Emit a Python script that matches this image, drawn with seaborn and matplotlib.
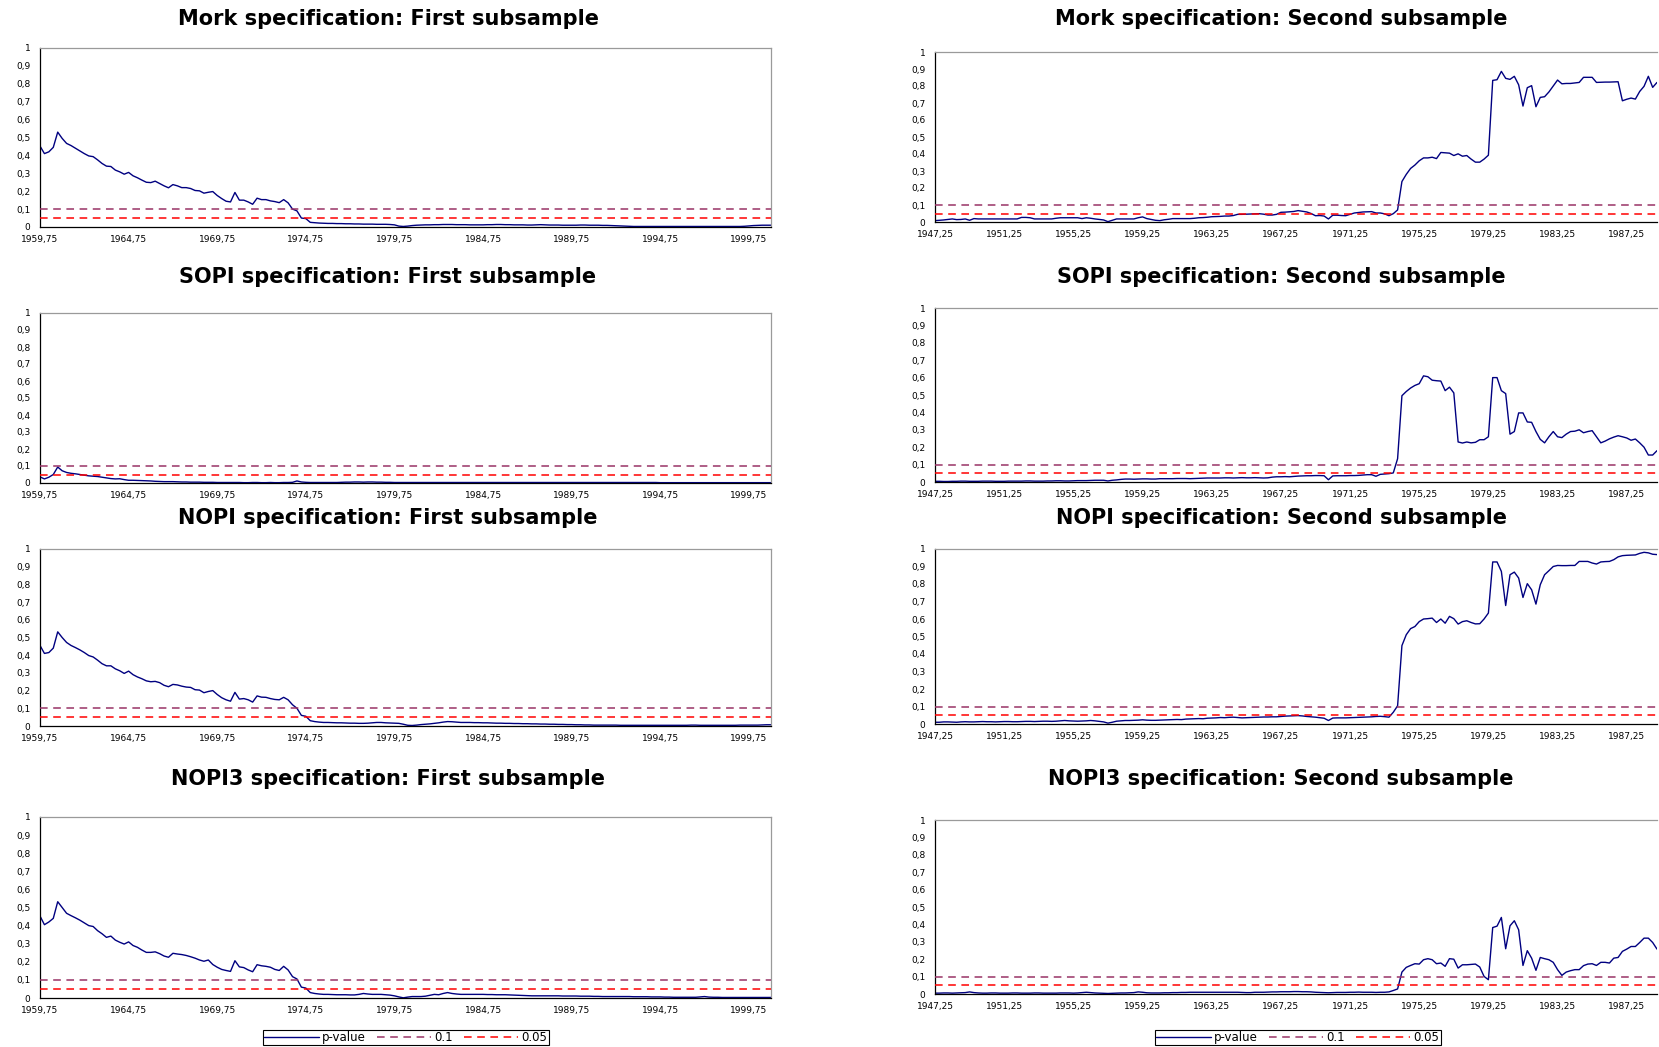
import numpy as np
import pandas as pd
import matplotlib
matplotlib.use("Agg")
import matplotlib.pyplot as plt
import seaborn as sns
from matplotlib.ticker import FixedLocator, FuncFormatter

# p-values, quarterly, first subsample starts 1959,75 - second subsample starts 1947,25
first_start = 1959.75
second_start = 1947.25

mork_first = [
    0.452, 0.41, 0.42, 0.445, 0.53, 0.495, 0.467, 0.455, 0.44, 0.425, 0.41, 0.397, 0.393, 0.375, 0.355, 0.34, 0.338, 0.318, 0.308, 0.295,
    0.305, 0.286, 0.275, 0.262, 0.25, 0.248, 0.256, 0.243, 0.23, 0.219, 0.237, 0.23, 0.22, 0.22, 0.215, 0.204, 0.202, 0.189, 0.194, 0.198,
    0.176, 0.159, 0.144, 0.14, 0.193, 0.15, 0.15, 0.14, 0.127, 0.161, 0.153, 0.153, 0.146, 0.142, 0.136, 0.153, 0.135, 0.1, 0.09, 0.05,
    0.047, 0.026, 0.024, 0.022, 0.021, 0.02, 0.02, 0.019, 0.019, 0.018, 0.018, 0.017, 0.017, 0.016, 0.016, 0.016, 0.015, 0.015, 0.015, 0.014,
    0.012, 0.005, 0.003, 0.005, 0.008, 0.01, 0.011, 0.012, 0.012, 0.013, 0.013, 0.014, 0.014, 0.014, 0.013, 0.013, 0.013, 0.012, 0.012, 0.012,
    0.012, 0.013, 0.013, 0.014, 0.014, 0.013, 0.013, 0.012, 0.012, 0.012, 0.011, 0.011, 0.012, 0.013, 0.012, 0.011, 0.011, 0.011, 0.01, 0.01,
    0.01, 0.01, 0.011, 0.011, 0.01, 0.01, 0.01, 0.009, 0.009, 0.008, 0.007, 0.006, 0.005, 0.004, 0.003, 0.003, 0.003, 0.003, 0.003, 0.003,
    0.003, 0.003, 0.003, 0.003, 0.003, 0.003, 0.003, 0.003, 0.003, 0.003, 0.003, 0.003, 0.003, 0.003, 0.003, 0.003, 0.003, 0.003, 0.003, 0.004,
    0.006, 0.008, 0.009, 0.01, 0.01, 0.01,
]

sopi_first = [
    0.036, 0.024, 0.034, 0.05, 0.094, 0.072, 0.062, 0.057, 0.054, 0.05, 0.046, 0.042, 0.04, 0.038, 0.034, 0.03, 0.026, 0.024, 0.025, 0.02,
    0.016, 0.016, 0.015, 0.014, 0.013, 0.012, 0.01, 0.009, 0.008, 0.008, 0.008, 0.007, 0.006, 0.006, 0.005, 0.005, 0.005, 0.004, 0.004, 0.004,
    0.003, 0.003, 0.003, 0.003, 0.003, 0.003, 0.002, 0.002, 0.003, 0.003, 0.002, 0.002, 0.003, 0.002, 0.002, 0.003, 0.003, 0.004, 0.012, 0.006,
    0.004, 0.003, 0.003, 0.003, 0.003, 0.003, 0.003, 0.003, 0.004, 0.005, 0.005, 0.006, 0.006, 0.005, 0.006, 0.006, 0.005, 0.005, 0.004, 0.004,
    0.003, 0.003, 0.003, 0.003, 0.003, 0.003, 0.003, 0.003, 0.003, 0.003, 0.003, 0.003, 0.003, 0.003, 0.003, 0.003, 0.003, 0.003, 0.003, 0.003,
    0.003, 0.003, 0.003, 0.003, 0.003, 0.003, 0.003, 0.003, 0.003, 0.003, 0.003, 0.003, 0.003, 0.003, 0.003, 0.003, 0.003, 0.003, 0.003, 0.003,
    0.003, 0.003, 0.003, 0.003, 0.003, 0.003, 0.003, 0.003, 0.003, 0.003, 0.003, 0.003, 0.003, 0.003, 0.003, 0.003, 0.003, 0.003, 0.003, 0.003,
    0.002, 0.002, 0.002, 0.002, 0.002, 0.002, 0.002, 0.002, 0.002, 0.002, 0.002, 0.002, 0.002, 0.002, 0.002, 0.002, 0.002, 0.002, 0.002, 0.002,
    0.002, 0.002, 0.002, 0.002, 0.002, 0.002,
]

nopi_first = [
    0.455, 0.41, 0.415, 0.44, 0.532, 0.5, 0.472, 0.455, 0.443, 0.43, 0.415, 0.398, 0.39, 0.372, 0.352, 0.34, 0.34, 0.323, 0.312, 0.297,
    0.31, 0.29, 0.277, 0.267, 0.255, 0.25, 0.252, 0.245, 0.23, 0.222, 0.235, 0.232, 0.225, 0.22, 0.218, 0.205, 0.203, 0.188, 0.195,
    0.2, 0.178, 0.16, 0.148, 0.14, 0.19, 0.152, 0.155, 0.148, 0.135, 0.17, 0.163, 0.162, 0.155, 0.15, 0.148, 0.162, 0.148, 0.12, 0.1,
    0.06, 0.055, 0.03, 0.025,
    0.022, 0.02, 0.02, 0.019, 0.018, 0.018, 0.017, 0.016, 0.016, 0.015, 0.015, 0.016, 0.018, 0.02, 0.02, 0.018, 0.017, 0.016, 0.015, 0.01,
    0.004, 0.003, 0.005, 0.008, 0.01, 0.012, 0.015, 0.018, 0.022, 0.025, 0.024, 0.022, 0.02, 0.02, 0.02, 0.019, 0.019, 0.018, 0.018, 0.017,
    0.016, 0.016, 0.015, 0.015, 0.014, 0.014, 0.013, 0.013, 0.012, 0.012, 0.011, 0.011, 0.01, 0.01, 0.009, 0.009, 0.008, 0.008, 0.007, 0.007,
    0.006, 0.006, 0.005, 0.005, 0.005, 0.005, 0.005, 0.005, 0.004, 0.004, 0.004, 0.004, 0.004, 0.004, 0.004, 0.004, 0.004, 0.004, 0.004, 0.004,
    0.004, 0.004, 0.004, 0.004, 0.005, 0.005, 0.004, 0.004, 0.004, 0.004, 0.004, 0.004, 0.004, 0.004, 0.004, 0.005, 0.005, 0.005, 0.005, 0.005,
    0.006, 0.007, 0.007,
]

nopi3_first = [
    0.453, 0.405, 0.42, 0.44, 0.532, 0.5, 0.468, 0.455, 0.443, 0.43, 0.415, 0.4, 0.395, 0.372, 0.355, 0.335, 0.342, 0.32, 0.308, 0.298,
    0.31, 0.29, 0.28, 0.265, 0.252, 0.252, 0.255, 0.245, 0.232, 0.225, 0.247, 0.243, 0.24, 0.235, 0.228, 0.22, 0.21, 0.203, 0.21, 0.185,
    0.17, 0.158, 0.152, 0.147, 0.206, 0.172, 0.168, 0.155, 0.145, 0.184, 0.178, 0.175, 0.17, 0.158, 0.152, 0.175, 0.155, 0.118, 0.105, 0.06,
    0.055, 0.03, 0.025,
    0.022, 0.02, 0.02, 0.019, 0.018, 0.018, 0.018, 0.017, 0.017, 0.02, 0.025, 0.022, 0.02, 0.02, 0.02, 0.018, 0.016, 0.012, 0.006, 0.001,
    0.005, 0.008, 0.008, 0.008, 0.01, 0.015, 0.02, 0.018, 0.025, 0.03, 0.025, 0.022, 0.02, 0.02, 0.02, 0.02, 0.02, 0.02, 0.019, 0.019,
    0.018, 0.018, 0.018, 0.017, 0.016, 0.015, 0.014, 0.013, 0.012, 0.012, 0.012, 0.012, 0.012, 0.012, 0.012, 0.011, 0.011, 0.011, 0.011, 0.01,
    0.01, 0.01, 0.009, 0.009, 0.008, 0.008, 0.008, 0.008, 0.008, 0.008, 0.008, 0.007, 0.007, 0.007, 0.007, 0.006, 0.006, 0.006, 0.005, 0.005,
    0.004, 0.004, 0.004, 0.004, 0.004, 0.004, 0.006, 0.008, 0.005, 0.004, 0.004, 0.003, 0.003, 0.003, 0.003, 0.003, 0.003, 0.003, 0.003, 0.003,
    0.003, 0.003, 0.003,
]

mork_second = [
    0.008, 0.01, 0.012, 0.015, 0.018, 0.014, 0.015, 0.018, 0.01, 0.02, 0.018, 0.018, 0.018, 0.018, 0.018, 0.018, 0.018, 0.018, 0.018, 0.018,
    0.027, 0.027, 0.025, 0.018, 0.018, 0.018, 0.018, 0.018, 0.022, 0.025, 0.025, 0.025, 0.025, 0.025, 0.02, 0.025, 0.022, 0.018, 0.015, 0.012,
    0.002, 0.01, 0.018, 0.018, 0.018, 0.018, 0.018, 0.025, 0.03, 0.02, 0.015, 0.01, 0.008, 0.013, 0.016, 0.02, 0.02, 0.02, 0.02, 0.02,
    0.022, 0.025, 0.026, 0.028, 0.031, 0.032, 0.033, 0.035, 0.035, 0.038, 0.045, 0.045, 0.046, 0.047, 0.048, 0.049, 0.046, 0.041, 0.041, 0.045,
    0.057, 0.058, 0.06, 0.062, 0.067, 0.063, 0.059, 0.05, 0.037, 0.038, 0.035, 0.018, 0.04, 0.04, 0.038, 0.037, 0.045, 0.053, 0.056, 0.059,
    0.06, 0.061, 0.053, 0.053, 0.048, 0.037, 0.049, 0.071, 0.238, 0.28, 0.315, 0.335, 0.36, 0.377, 0.377, 0.381, 0.373, 0.409, 0.407, 0.405,
    0.391, 0.401, 0.387, 0.391, 0.37, 0.352, 0.352, 0.37, 0.393, 0.833, 0.837, 0.886, 0.845, 0.839, 0.857, 0.807, 0.682, 0.79, 0.802, 0.678,
    0.733, 0.737, 0.765, 0.8, 0.835, 0.813, 0.815, 0.815, 0.818, 0.821, 0.851, 0.851, 0.851, 0.821, 0.822, 0.823, 0.823, 0.824, 0.825, 0.713,
    0.722, 0.729, 0.723, 0.768, 0.798, 0.857, 0.792, 0.821,
]

sopi_second = [
    0.004, 0.004, 0.003, 0.003, 0.004, 0.004, 0.005, 0.005, 0.004, 0.004, 0.004, 0.005, 0.005, 0.005, 0.004, 0.004, 0.004, 0.005, 0.005, 0.005,
    0.005, 0.006, 0.006, 0.005, 0.005, 0.005, 0.006, 0.006, 0.007, 0.007, 0.006, 0.006, 0.007, 0.008, 0.008, 0.008, 0.009, 0.01, 0.01, 0.01,
    0.006, 0.01, 0.012, 0.015, 0.017, 0.017, 0.016, 0.017, 0.018, 0.018, 0.017, 0.017, 0.019, 0.019, 0.019, 0.019, 0.02, 0.02, 0.02, 0.019,
    0.02, 0.021, 0.022, 0.023, 0.023, 0.023, 0.023, 0.024, 0.024, 0.023, 0.024, 0.025, 0.024, 0.024, 0.025, 0.024, 0.023, 0.024, 0.028, 0.03,
    0.03, 0.031, 0.03, 0.032, 0.034, 0.035, 0.036, 0.036, 0.037, 0.037, 0.036, 0.013, 0.035, 0.036, 0.036, 0.036, 0.037, 0.037, 0.038, 0.04,
    0.042, 0.042, 0.033, 0.044, 0.046, 0.048, 0.052, 0.134, 0.496, 0.52, 0.54, 0.555, 0.565, 0.61, 0.605, 0.585, 0.582, 0.58, 0.525, 0.545,
    0.512, 0.23, 0.224, 0.23, 0.225, 0.228, 0.243, 0.243, 0.26, 0.6, 0.6, 0.525, 0.508, 0.275, 0.29, 0.397, 0.397, 0.345, 0.343, 0.29,
    0.245, 0.225, 0.26, 0.29, 0.26, 0.255, 0.275, 0.29, 0.292, 0.3, 0.283, 0.29, 0.295, 0.26, 0.225, 0.235, 0.248, 0.258, 0.266, 0.26,
    0.253, 0.24, 0.247, 0.225, 0.2, 0.155, 0.155, 0.18,
]

nopi_second = [
    0.01, 0.01, 0.012, 0.012, 0.011, 0.01, 0.012, 0.013, 0.012, 0.012, 0.013, 0.014, 0.013, 0.013, 0.012, 0.013, 0.014, 0.014, 0.013, 0.013,
    0.014, 0.015, 0.015, 0.014, 0.015, 0.016, 0.016, 0.015, 0.016, 0.018, 0.02, 0.018, 0.017, 0.016, 0.017, 0.018, 0.02, 0.018, 0.015, 0.012,
    0.005, 0.01, 0.016, 0.018, 0.02, 0.02, 0.021, 0.022, 0.024, 0.022, 0.021, 0.021, 0.022, 0.023, 0.024, 0.025, 0.026, 0.025, 0.028, 0.029,
    0.03, 0.031, 0.03, 0.033, 0.034, 0.035, 0.037, 0.036, 0.038, 0.039, 0.037, 0.035, 0.036, 0.037, 0.038, 0.039, 0.04, 0.04, 0.041, 0.041,
    0.043, 0.045, 0.046, 0.047, 0.048, 0.046, 0.043, 0.041, 0.039, 0.036, 0.033, 0.02, 0.034, 0.035, 0.035, 0.035, 0.036, 0.037, 0.038, 0.039,
    0.04, 0.041, 0.043, 0.044, 0.042, 0.039, 0.067, 0.104, 0.448, 0.51, 0.545, 0.557, 0.585, 0.6, 0.602, 0.605, 0.58, 0.6, 0.576, 0.615,
    0.602, 0.571, 0.585, 0.59, 0.58, 0.572, 0.573, 0.6, 0.634, 0.926, 0.926, 0.872, 0.677, 0.853, 0.868, 0.834, 0.723, 0.802, 0.767, 0.685,
    0.796, 0.853, 0.876, 0.9, 0.906, 0.905, 0.905, 0.906, 0.906, 0.929, 0.929, 0.929, 0.92, 0.914, 0.926, 0.928, 0.929, 0.939, 0.955, 0.962,
    0.964, 0.965, 0.966, 0.975, 0.981, 0.978, 0.97, 0.968,
]

nopi3_second = [
    0.005, 0.005, 0.006, 0.006, 0.005, 0.006, 0.007, 0.008, 0.012, 0.008, 0.006, 0.005, 0.005, 0.006, 0.006, 0.005, 0.005, 0.005, 0.006, 0.006,
    0.005, 0.005, 0.005, 0.006, 0.006, 0.005, 0.005, 0.005, 0.005, 0.006, 0.006, 0.006, 0.005, 0.006, 0.008, 0.01, 0.008, 0.006, 0.005, 0.004,
    0.003, 0.004, 0.005, 0.006, 0.006, 0.007, 0.008, 0.012, 0.01, 0.007, 0.006, 0.006, 0.006, 0.007, 0.007, 0.008, 0.008, 0.009, 0.009, 0.01,
    0.01, 0.01, 0.01, 0.01, 0.01, 0.01, 0.01, 0.01, 0.01, 0.01, 0.01, 0.009, 0.008, 0.008, 0.01, 0.01, 0.01, 0.011, 0.012, 0.012,
    0.013, 0.013, 0.013, 0.014, 0.014, 0.013, 0.013, 0.012, 0.01, 0.009, 0.008, 0.007, 0.008, 0.009, 0.009, 0.009, 0.01, 0.01, 0.011, 0.01,
    0.01, 0.01, 0.009, 0.01, 0.01, 0.012, 0.02, 0.029, 0.126, 0.153, 0.164, 0.174, 0.172, 0.197, 0.203, 0.197, 0.174, 0.178, 0.159, 0.203,
    0.2, 0.149, 0.168, 0.168, 0.17, 0.172, 0.155, 0.101, 0.082, 0.382, 0.39, 0.44, 0.26, 0.392, 0.421, 0.369, 0.164, 0.249, 0.206, 0.136,
    0.21, 0.203, 0.197, 0.182, 0.14, 0.107, 0.126, 0.134, 0.14, 0.14, 0.163, 0.172, 0.174, 0.164, 0.182, 0.182, 0.178, 0.206, 0.21, 0.245,
    0.258, 0.273, 0.273, 0.296, 0.321, 0.321, 0.296, 0.258,
]

thresholds = [0.1, 0.05]
threshold_labels = ["0.1", "0.05"]

W, H = 1659, 1047
sns.set_style("white")
plt.rcParams["font.family"] = ["DejaVu Sans"]
plt.rcParams["lines.scale_dashes"] = False
for key in ["text.color", "axes.labelcolor", "xtick.color", "ytick.color"]:
    plt.rcParams[key] = "black"

fig = plt.figure(figsize=(W / 100, H / 100), dpi=100)
fig.patch.set_facecolor("white")


def add_ax(x0, x1, ytop, ybot):
    return fig.add_axes([x0 / W, 1 - ybot / H, (x1 - x0) / W, (ybot - ytop) / H])


def ytick_fmt(v, _):
    s = f"{v:.1f}".replace(".", ",")
    return {"0,0": "0", "1,0": "1"}.get(s, s)


def xtick_fmt(v, _):
    return f"{v:.2f}".replace(".", ",")


navy = "#000080"
plum = "#993366"
red = "#FF0000"

# (values, start, x end, label step, axes box, title position)
panels = [
    (mork_first, first_start, 2001.0, 5, (40, 771, 48, 227), 388, 19, "Mork specification: First subsample"),
    (mork_second, second_start, 1989.0, 4, (935, 1657, 52, 222), 1281, 19, "Mork specification: Second subsample"),
    (sopi_first, first_start, 2001.0, 5, (40, 771, 313, 483), 388, 277, "SOPI specification: First subsample"),
    (sopi_second, second_start, 1989.0, 4, (935, 1657, 308, 482), 1281, 277, "SOPI specification: Second subsample"),
    (nopi_first, first_start, 2001.0, 5, (40, 771, 549, 726), 388, 518, "NOPI specification: First subsample"),
    (nopi_second, second_start, 1989.0, 4, (935, 1657, 549, 724), 1281, 518, "NOPI specification: Second subsample"),
    (nopi3_first, first_start, 2001.0, 5, (40, 771, 817, 998), 388, 779, "NOPI3 specification: First subsample"),
    (nopi3_second, second_start, 1989.0, 4, (935, 1657, 820, 994), 1281, 779, "NOPI3 specification: Second subsample"),
]

axes = []
for vals, start, xend, step, box, tx, ty, title in panels:
    ax = add_ax(*box)
    dates = start + 0.25 * np.arange(len(vals))
    df = pd.DataFrame({"date": dates, "p": vals})
    sns.lineplot(data=df, x="date", y="p", ax=ax, color=navy, lw=1.0,
                 estimator=None, label="p-value", legend=False, zorder=2)
    for thr, lab, col in zip(thresholds, threshold_labels, [plum, red]):
        ax.axhline(thr, color=col, lw=1.1, dashes=(5.5, 4.0), label=lab, zorder=3)

    ax.set_xlim(start, xend)
    ax.set_ylim(0, 1)
    ax.set_xlabel("")
    ax.set_ylabel("")
    ax.yaxis.set_major_locator(FixedLocator(np.round(np.arange(0, 1.01, 0.1), 1)))
    ax.yaxis.set_major_formatter(FuncFormatter(ytick_fmt))
    ax.xaxis.set_major_locator(FixedLocator(np.arange(start, xend + 0.01, step)))
    ax.xaxis.set_minor_locator(FixedLocator(np.arange(start, xend + 0.01, 1.0)))
    ax.xaxis.set_major_formatter(FuncFormatter(xtick_fmt))
    ax.tick_params(axis="both", which="both", direction="out", length=3, width=0.8,
                   color="black", labelcolor="black", labelsize=6.5, pad=3)
    ax.tick_params(axis="y", pad=4)
    ax.tick_params(axis="x", which="minor", labelbottom=False)
    for side in ["left", "bottom"]:
        ax.spines[side].set_color("black")
        ax.spines[side].set_linewidth(0.9)
    for side in ["top", "right"]:
        ax.spines[side].set_color("#9a9a9a")
        ax.spines[side].set_linewidth(0.9)
    if start == second_start:
        ax.spines["right"].set_visible(False)
    ax.grid(False)
    fig.text(tx / W, 1 - ty / H, title, ha="center", va="center",
             fontsize=15, fontweight="bold", color="black")
    axes.append(ax)

for ax, cx in [(axes[6], 406), (axes[7], 1298)]:
    handles, labels = ax.get_legend_handles_labels()
    leg = fig.legend(handles, labels, loc="upper center", bbox_to_anchor=(cx / W, 1 - 1030 / H),
                     ncol=3, frameon=True, fancybox=False, framealpha=1, edgecolor="black",
                     fontsize=8.5, handlelength=4.6, handletextpad=0.3, columnspacing=0.9,
                     borderpad=0.1, borderaxespad=0)
    leg.get_frame().set_linewidth(0.8)

fig.savefig("out.png", dpi=100, facecolor="white")
